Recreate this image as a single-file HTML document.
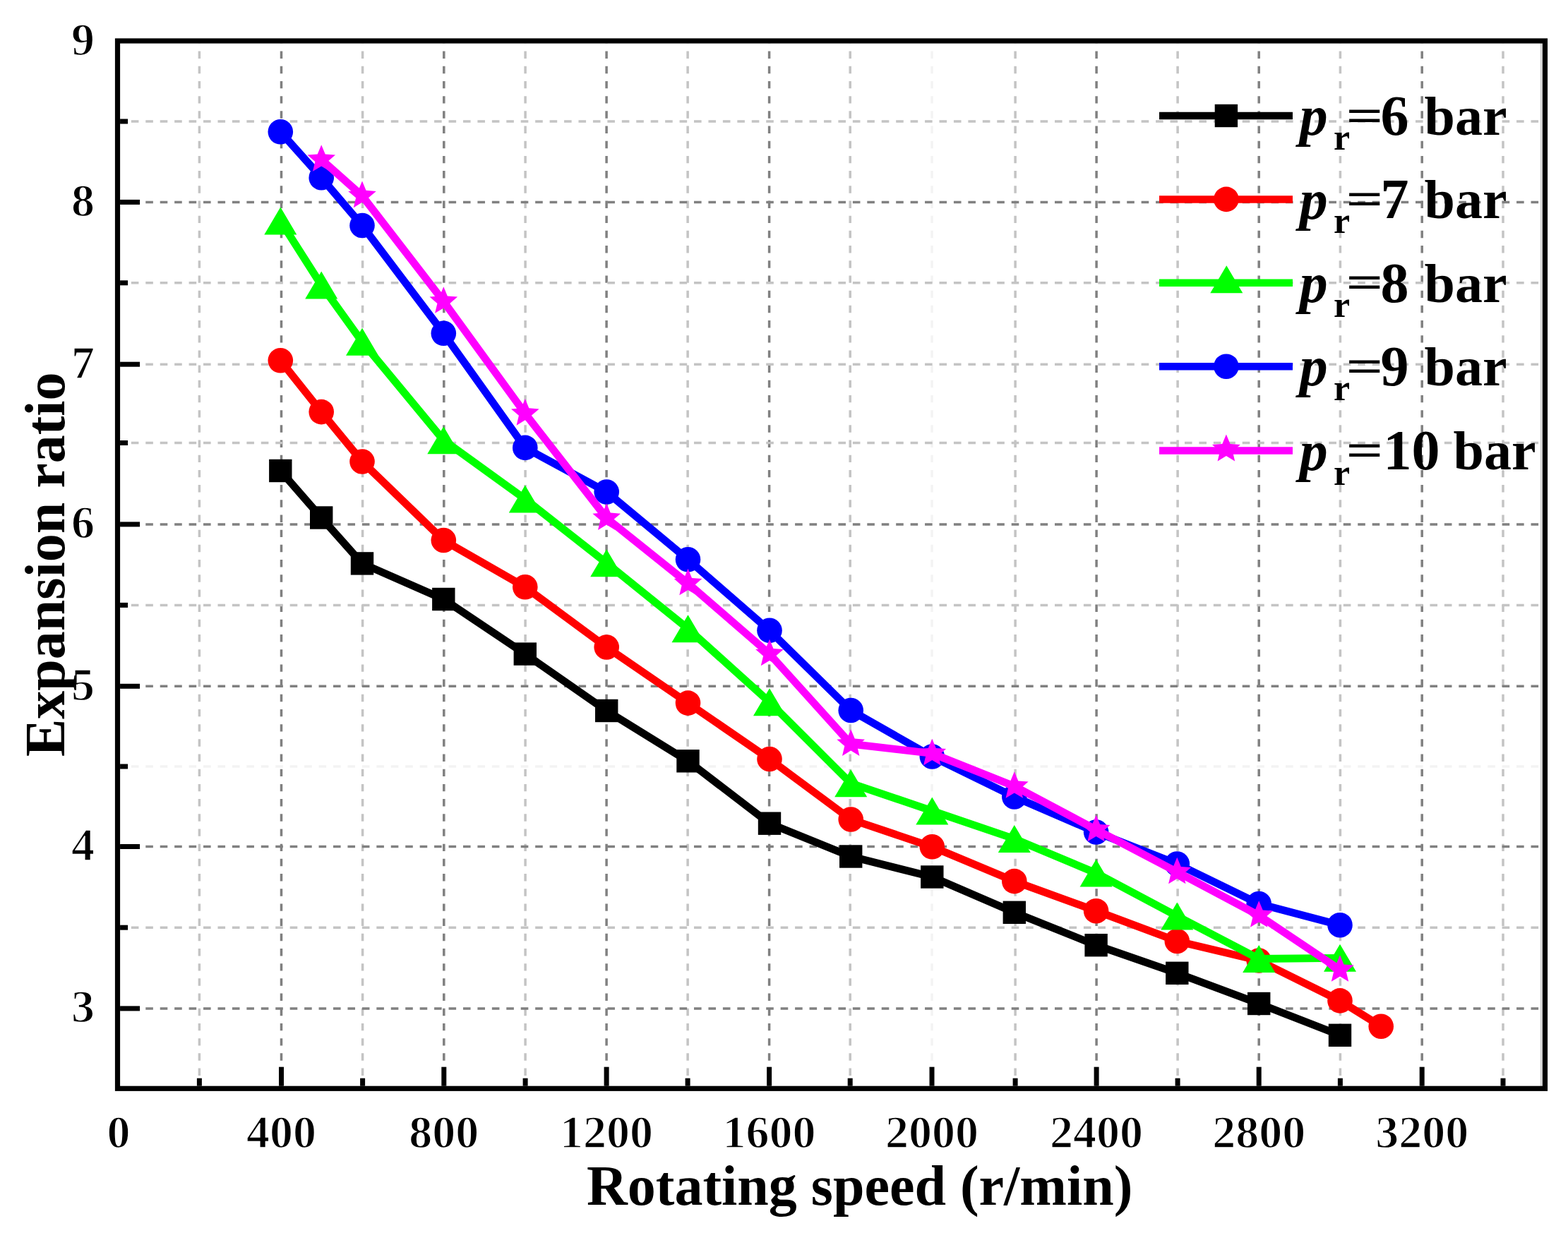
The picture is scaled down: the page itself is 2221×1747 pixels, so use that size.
<!DOCTYPE html>
<html><head><meta charset="utf-8"><title>Expansion ratio vs rotating speed</title>
<style>
html,body{margin:0;padding:0;background:#fff;}
svg{display:block;}
text{font-family:"Liberation Serif","Times New Roman",serif;font-weight:bold;fill:#000;}
</style></head><body>
<svg xmlns="http://www.w3.org/2000/svg" width="2221" height="1747" viewBox="0 0 2221 1747">
<rect width="2221" height="1747" fill="#fff"/>

<g id="grid"><line x1="282.4" y1="1538.8" x2="282.4" y2="61.5" stroke="#c4c4c4" stroke-width="3.5" stroke-dasharray="10.4 10.79" stroke-dashoffset="6.3"/>
<line x1="398.5" y1="1538.8" x2="398.5" y2="61.5" stroke="#808080" stroke-width="3.5" stroke-dasharray="10.4 10.79" stroke-dashoffset="6.3"/>
<line x1="513.6" y1="1538.8" x2="513.6" y2="61.5" stroke="#c4c4c4" stroke-width="3.5" stroke-dasharray="10.4 10.79" stroke-dashoffset="6.3"/>
<line x1="628.8" y1="1538.8" x2="628.8" y2="61.5" stroke="#808080" stroke-width="3.5" stroke-dasharray="10.4 10.79" stroke-dashoffset="6.3"/>
<line x1="744.1" y1="1538.8" x2="744.1" y2="61.5" stroke="#c4c4c4" stroke-width="3.5" stroke-dasharray="10.4 10.79" stroke-dashoffset="6.3"/>
<line x1="859.1" y1="1538.8" x2="859.1" y2="61.5" stroke="#808080" stroke-width="3.5" stroke-dasharray="10.4 10.79" stroke-dashoffset="6.3"/>
<line x1="974.1" y1="1538.8" x2="974.1" y2="61.5" stroke="#c4c4c4" stroke-width="3.5" stroke-dasharray="10.4 10.79" stroke-dashoffset="6.3"/>
<line x1="1089.6" y1="1538.8" x2="1089.6" y2="61.5" stroke="#808080" stroke-width="3.5" stroke-dasharray="10.4 10.79" stroke-dashoffset="6.3"/>
<line x1="1204.2" y1="1538.8" x2="1204.2" y2="61.5" stroke="#c4c4c4" stroke-width="3.5" stroke-dasharray="10.4 10.79" stroke-dashoffset="6.3"/>
<line x1="1320.0" y1="1538.8" x2="1320.0" y2="61.5" stroke="#f3f3f3" stroke-width="3.5" stroke-dasharray="10.4 10.79" stroke-dashoffset="6.3"/>
<line x1="1438.1" y1="1538.8" x2="1438.1" y2="61.5" stroke="#c4c4c4" stroke-width="3.5" stroke-dasharray="10.4 10.79" stroke-dashoffset="6.3"/>
<line x1="1553.1" y1="1538.8" x2="1553.1" y2="61.5" stroke="#808080" stroke-width="3.5" stroke-dasharray="10.4 10.79" stroke-dashoffset="6.3"/>
<line x1="1668.1" y1="1538.8" x2="1668.1" y2="61.5" stroke="#c4c4c4" stroke-width="3.5" stroke-dasharray="10.4 10.79" stroke-dashoffset="6.3"/>
<line x1="1783.2" y1="1538.8" x2="1783.2" y2="61.5" stroke="#808080" stroke-width="3.5" stroke-dasharray="10.4 10.79" stroke-dashoffset="6.3"/>
<line x1="1898.4" y1="1538.8" x2="1898.4" y2="61.5" stroke="#c4c4c4" stroke-width="3.5" stroke-dasharray="10.4 10.79" stroke-dashoffset="6.3"/>
<line x1="2014.2" y1="1538.8" x2="2014.2" y2="61.5" stroke="#808080" stroke-width="3.5" stroke-dasharray="10.4 10.79" stroke-dashoffset="6.3"/>
<line x1="2129.0" y1="1538.8" x2="2129.0" y2="61.5" stroke="#c4c4c4" stroke-width="3.5" stroke-dasharray="10.4 10.79" stroke-dashoffset="6.3"/>
<line x1="170.0" y1="1428.9" x2="2185.0" y2="1428.9" stroke="#808080" stroke-width="3.5" stroke-dasharray="10.6 9.84" stroke-dashoffset="4.6"/>
<line x1="170.0" y1="1314.2" x2="2185.0" y2="1314.2" stroke="#c4c4c4" stroke-width="3.5" stroke-dasharray="10.6 9.84" stroke-dashoffset="4.6"/>
<line x1="170.0" y1="1199.5" x2="2185.0" y2="1199.5" stroke="#808080" stroke-width="3.5" stroke-dasharray="10.6 9.84" stroke-dashoffset="4.6"/>
<line x1="170.0" y1="1086.0" x2="2185.0" y2="1086.0" stroke="#f3f3f3" stroke-width="3.5" stroke-dasharray="10.6 9.84" stroke-dashoffset="4.6"/>
<line x1="170.0" y1="972.3" x2="2185.0" y2="972.3" stroke="#808080" stroke-width="3.5" stroke-dasharray="10.6 9.84" stroke-dashoffset="4.6"/>
<line x1="170.0" y1="857.4" x2="2185.0" y2="857.4" stroke="#c4c4c4" stroke-width="3.5" stroke-dasharray="10.6 9.84" stroke-dashoffset="4.6"/>
<line x1="170.0" y1="742.9" x2="2185.0" y2="742.9" stroke="#808080" stroke-width="3.5" stroke-dasharray="10.6 9.84" stroke-dashoffset="4.6"/>
<line x1="170.0" y1="627.5" x2="2185.0" y2="627.5" stroke="#c4c4c4" stroke-width="3.5" stroke-dasharray="10.6 9.84" stroke-dashoffset="4.6"/>
<line x1="170.0" y1="516.2" x2="2185.0" y2="516.2" stroke="#c4c4c4" stroke-width="3.5" stroke-dasharray="10.6 9.84" stroke-dashoffset="4.6"/>
<line x1="170.0" y1="400.8" x2="2185.0" y2="400.8" stroke="#c4c4c4" stroke-width="3.5" stroke-dasharray="10.6 9.84" stroke-dashoffset="4.6"/>
<line x1="170.0" y1="286.4" x2="2185.0" y2="286.4" stroke="#808080" stroke-width="3.5" stroke-dasharray="10.6 9.84" stroke-dashoffset="4.6"/>
<line x1="170.0" y1="172.0" x2="2185.0" y2="172.0" stroke="#c4c4c4" stroke-width="3.5" stroke-dasharray="10.6 9.84" stroke-dashoffset="4.6"/>
<line x1="2183.2" y1="57.95" x2="2183.2" y2="1542.3" stroke="#d4d4d4" stroke-width="3"/></g>
<polyline points="397.3,667.0 455.2,733.5 513.0,798.4 628.3,849.0 743.8,926.6 859.2,1007.0 974.5,1078.3 1090.0,1166.7 1205.2,1213.5 1320.3,1242.5 1436.8,1292.8 1552.6,1339.2 1667.3,1378.8 1783.2,1422.0 1898.0,1466.8" fill="none" stroke="#000000" stroke-width="10.8" stroke-linejoin="round"/>
<rect x="381.1" y="650.8" width="32.4" height="32.4" fill="#000000"/><rect x="439.0" y="717.3" width="32.4" height="32.4" fill="#000000"/><rect x="496.8" y="782.2" width="32.4" height="32.4" fill="#000000"/><rect x="612.1" y="832.8" width="32.4" height="32.4" fill="#000000"/><rect x="727.6" y="910.4" width="32.4" height="32.4" fill="#000000"/><rect x="843.0" y="990.8" width="32.4" height="32.4" fill="#000000"/><rect x="958.3" y="1062.1" width="32.4" height="32.4" fill="#000000"/><rect x="1073.8" y="1150.5" width="32.4" height="32.4" fill="#000000"/><rect x="1189.0" y="1197.3" width="32.4" height="32.4" fill="#000000"/><rect x="1304.1" y="1226.3" width="32.4" height="32.4" fill="#000000"/><rect x="1420.6" y="1276.6" width="32.4" height="32.4" fill="#000000"/><rect x="1536.4" y="1323.0" width="32.4" height="32.4" fill="#000000"/><rect x="1651.1" y="1362.6" width="32.4" height="32.4" fill="#000000"/><rect x="1767.0" y="1405.8" width="32.4" height="32.4" fill="#000000"/><rect x="1881.8" y="1450.6" width="32.4" height="32.4" fill="#000000"/>
<polyline points="397.3,510.8 455.2,583.6 513.0,654.0 628.3,765.5 743.8,831.8 859.2,917.0 974.5,996.1 1090.0,1075.5 1205.2,1161.0 1320.3,1199.8 1436.8,1248.6 1552.6,1290.7 1667.3,1333.5 1783.2,1361.0 1898.0,1417.9 1956.2,1454.2" fill="none" stroke="#ff0000" stroke-width="10.8" stroke-linejoin="round"/>
<circle cx="397.3" cy="510.8" r="17.8" fill="#ff0000"/><circle cx="455.2" cy="583.6" r="17.8" fill="#ff0000"/><circle cx="513.0" cy="654.0" r="17.8" fill="#ff0000"/><circle cx="628.3" cy="765.5" r="17.8" fill="#ff0000"/><circle cx="743.8" cy="831.8" r="17.8" fill="#ff0000"/><circle cx="859.2" cy="917.0" r="17.8" fill="#ff0000"/><circle cx="974.5" cy="996.1" r="17.8" fill="#ff0000"/><circle cx="1090.0" cy="1075.5" r="17.8" fill="#ff0000"/><circle cx="1205.2" cy="1161.0" r="17.8" fill="#ff0000"/><circle cx="1320.3" cy="1199.8" r="17.8" fill="#ff0000"/><circle cx="1436.8" cy="1248.6" r="17.8" fill="#ff0000"/><circle cx="1552.6" cy="1290.7" r="17.8" fill="#ff0000"/><circle cx="1667.3" cy="1333.5" r="17.8" fill="#ff0000"/><circle cx="1783.2" cy="1361.0" r="17.8" fill="#ff0000"/><circle cx="1898.0" cy="1417.9" r="17.8" fill="#ff0000"/><circle cx="1956.2" cy="1454.2" r="17.8" fill="#ff0000"/>
<polyline points="397.3,313.1 455.2,404.0 513.0,484.3 628.3,623.7 743.8,707.1 859.2,797.8 974.5,890.7 1090.0,994.7 1205.2,1109.8 1320.3,1148.9 1436.8,1188.5 1552.6,1237.0 1667.3,1298.0 1783.2,1358.5 1898.0,1357.3" fill="none" stroke="#00ff00" stroke-width="10.8" stroke-linejoin="round"/>
<polygon points="397.3,293.6 420.3,332.6 374.3,332.6" fill="#00ff00"/><polygon points="455.2,384.5 478.2,423.5 432.2,423.5" fill="#00ff00"/><polygon points="513.0,464.8 536.0,503.8 490.0,503.8" fill="#00ff00"/><polygon points="628.3,604.2 651.3,643.2 605.3,643.2" fill="#00ff00"/><polygon points="743.8,687.6 766.8,726.6 720.8,726.6" fill="#00ff00"/><polygon points="859.2,778.3 882.2,817.3 836.2,817.3" fill="#00ff00"/><polygon points="974.5,871.2 997.5,910.2 951.5,910.2" fill="#00ff00"/><polygon points="1090.0,975.2 1113.0,1014.2 1067.0,1014.2" fill="#00ff00"/><polygon points="1205.2,1090.3 1228.2,1129.3 1182.2,1129.3" fill="#00ff00"/><polygon points="1320.3,1129.4 1343.3,1168.4 1297.3,1168.4" fill="#00ff00"/><polygon points="1436.8,1169.0 1459.8,1208.0 1413.8,1208.0" fill="#00ff00"/><polygon points="1552.6,1217.5 1575.6,1256.5 1529.6,1256.5" fill="#00ff00"/><polygon points="1667.3,1278.5 1690.3,1317.5 1644.3,1317.5" fill="#00ff00"/><polygon points="1783.2,1339.0 1806.2,1378.0 1760.2,1378.0" fill="#00ff00"/><polygon points="1898.0,1337.8 1921.0,1376.8 1875.0,1376.8" fill="#00ff00"/>
<polyline points="397.3,186.8 455.2,251.7 513.0,319.5 628.3,472.3 743.8,634.4 859.2,697.0 974.5,792.8 1090.0,893.3 1205.2,1006.5 1320.3,1072.0 1436.8,1129.0 1552.6,1179.0 1667.3,1224.0 1783.2,1280.5 1898.0,1310.7" fill="none" stroke="#0000ff" stroke-width="10.8" stroke-linejoin="round"/>
<circle cx="397.3" cy="186.8" r="17.8" fill="#0000ff"/><circle cx="455.2" cy="251.7" r="17.8" fill="#0000ff"/><circle cx="513.0" cy="319.5" r="17.8" fill="#0000ff"/><circle cx="628.3" cy="472.3" r="17.8" fill="#0000ff"/><circle cx="743.8" cy="634.4" r="17.8" fill="#0000ff"/><circle cx="859.2" cy="697.0" r="17.8" fill="#0000ff"/><circle cx="974.5" cy="792.8" r="17.8" fill="#0000ff"/><circle cx="1090.0" cy="893.3" r="17.8" fill="#0000ff"/><circle cx="1205.2" cy="1006.5" r="17.8" fill="#0000ff"/><circle cx="1320.3" cy="1072.0" r="17.8" fill="#0000ff"/><circle cx="1436.8" cy="1129.0" r="17.8" fill="#0000ff"/><circle cx="1552.6" cy="1179.0" r="17.8" fill="#0000ff"/><circle cx="1667.3" cy="1224.0" r="17.8" fill="#0000ff"/><circle cx="1783.2" cy="1280.5" r="17.8" fill="#0000ff"/><circle cx="1898.0" cy="1310.7" r="17.8" fill="#0000ff"/>
<polyline points="455.2,226.0 513.0,277.4 628.3,427.0 743.8,585.9 859.2,734.1 974.5,826.5 1090.0,926.5 1205.2,1054.1 1320.3,1067.5 1436.8,1114.0 1552.6,1175.5 1667.3,1235.5 1783.2,1297.0 1898.0,1374.0" fill="none" stroke="#ff00ff" stroke-width="10.8" stroke-linejoin="round"/>
<polygon points="455.2,205.2 460.7,218.4 475.0,219.6 464.1,228.9 467.4,242.8 455.2,235.4 443.0,242.8 446.3,228.9 435.4,219.6 449.7,218.4" fill="#ff00ff"/><polygon points="513.0,256.6 518.5,269.8 532.8,271.0 521.9,280.3 525.2,294.2 513.0,286.8 500.8,294.2 504.1,280.3 493.2,271.0 507.5,269.8" fill="#ff00ff"/><polygon points="628.3,406.2 633.8,419.4 648.1,420.6 637.2,429.9 640.5,443.8 628.3,436.4 616.1,443.8 619.4,429.9 608.5,420.6 622.8,419.4" fill="#ff00ff"/><polygon points="743.8,565.1 749.3,578.3 763.6,579.5 752.7,588.8 756.0,602.7 743.8,595.3 731.6,602.7 734.9,588.8 724.0,579.5 738.3,578.3" fill="#ff00ff"/><polygon points="859.2,713.3 864.7,726.5 879.0,727.7 868.1,737.0 871.4,750.9 859.2,743.5 847.0,750.9 850.3,737.0 839.4,727.7 853.7,726.5" fill="#ff00ff"/><polygon points="974.5,805.7 980.0,818.9 994.3,820.1 983.4,829.4 986.7,843.3 974.5,835.9 962.3,843.3 965.6,829.4 954.7,820.1 969.0,818.9" fill="#ff00ff"/><polygon points="1090.0,905.7 1095.5,918.9 1109.8,920.1 1098.9,929.4 1102.2,943.3 1090.0,935.9 1077.8,943.3 1081.1,929.4 1070.2,920.1 1084.5,918.9" fill="#ff00ff"/><polygon points="1205.2,1033.3 1210.7,1046.5 1225.0,1047.7 1214.1,1057.0 1217.4,1070.9 1205.2,1063.5 1193.0,1070.9 1196.3,1057.0 1185.4,1047.7 1199.7,1046.5" fill="#ff00ff"/><polygon points="1320.3,1046.7 1325.8,1059.9 1340.1,1061.1 1329.2,1070.4 1332.5,1084.3 1320.3,1076.9 1308.1,1084.3 1311.4,1070.4 1300.5,1061.1 1314.8,1059.9" fill="#ff00ff"/><polygon points="1436.8,1093.2 1442.3,1106.4 1456.6,1107.6 1445.7,1116.9 1449.0,1130.8 1436.8,1123.4 1424.6,1130.8 1427.9,1116.9 1417.0,1107.6 1431.3,1106.4" fill="#ff00ff"/><polygon points="1552.6,1154.7 1558.1,1167.9 1572.4,1169.1 1561.5,1178.4 1564.8,1192.3 1552.6,1184.9 1540.4,1192.3 1543.7,1178.4 1532.8,1169.1 1547.1,1167.9" fill="#ff00ff"/><polygon points="1667.3,1214.7 1672.8,1227.9 1687.1,1229.1 1676.2,1238.4 1679.5,1252.3 1667.3,1244.9 1655.1,1252.3 1658.4,1238.4 1647.5,1229.1 1661.8,1227.9" fill="#ff00ff"/><polygon points="1783.2,1276.2 1788.7,1289.4 1803.0,1290.6 1792.1,1299.9 1795.4,1313.8 1783.2,1306.4 1771.0,1313.8 1774.3,1299.9 1763.4,1290.6 1777.7,1289.4" fill="#ff00ff"/><polygon points="1898.0,1353.2 1903.5,1366.4 1917.8,1367.6 1906.9,1376.9 1910.2,1390.8 1898.0,1383.4 1885.8,1390.8 1889.1,1376.9 1878.2,1367.6 1892.5,1366.4" fill="#ff00ff"/>
<rect x="166.5" y="57.95" width="2022.0" height="1484.35" fill="none" stroke="#000" stroke-width="7.2"/>
<line x1="282.4" y1="1538.7" x2="282.4" y2="1527.7" stroke="#000" stroke-width="7"/><line x1="398.5" y1="1538.7" x2="398.5" y2="1511.7" stroke="#000" stroke-width="7"/><line x1="513.6" y1="1538.7" x2="513.6" y2="1527.7" stroke="#000" stroke-width="7"/><line x1="628.8" y1="1538.7" x2="628.8" y2="1511.7" stroke="#000" stroke-width="7"/><line x1="744.1" y1="1538.7" x2="744.1" y2="1527.7" stroke="#000" stroke-width="7"/><line x1="859.1" y1="1538.7" x2="859.1" y2="1511.7" stroke="#000" stroke-width="7"/><line x1="974.1" y1="1538.7" x2="974.1" y2="1527.7" stroke="#000" stroke-width="7"/><line x1="1089.6" y1="1538.7" x2="1089.6" y2="1511.7" stroke="#000" stroke-width="7"/><line x1="1204.2" y1="1538.7" x2="1204.2" y2="1527.7" stroke="#000" stroke-width="7"/><line x1="1320.0" y1="1538.7" x2="1320.0" y2="1511.7" stroke="#000" stroke-width="7"/><line x1="1438.1" y1="1538.7" x2="1438.1" y2="1527.7" stroke="#000" stroke-width="7"/><line x1="1553.1" y1="1538.7" x2="1553.1" y2="1511.7" stroke="#000" stroke-width="7"/><line x1="1668.1" y1="1538.7" x2="1668.1" y2="1527.7" stroke="#000" stroke-width="7"/><line x1="1783.2" y1="1538.7" x2="1783.2" y2="1511.7" stroke="#000" stroke-width="7"/><line x1="1898.4" y1="1538.7" x2="1898.4" y2="1527.7" stroke="#000" stroke-width="7"/><line x1="2014.2" y1="1538.7" x2="2014.2" y2="1511.7" stroke="#000" stroke-width="7"/><line x1="2129.0" y1="1538.7" x2="2129.0" y2="1527.7" stroke="#000" stroke-width="7"/><line x1="170.1" y1="1428.9" x2="198.1" y2="1428.9" stroke="#000" stroke-width="7"/><line x1="170.1" y1="1314.2" x2="181.1" y2="1314.2" stroke="#000" stroke-width="7"/><line x1="170.1" y1="1199.5" x2="198.1" y2="1199.5" stroke="#000" stroke-width="7"/><line x1="170.1" y1="1086.0" x2="181.1" y2="1086.0" stroke="#000" stroke-width="7"/><line x1="170.1" y1="972.3" x2="198.1" y2="972.3" stroke="#000" stroke-width="7"/><line x1="170.1" y1="857.4" x2="181.1" y2="857.4" stroke="#000" stroke-width="7"/><line x1="170.1" y1="742.9" x2="198.1" y2="742.9" stroke="#000" stroke-width="7"/><line x1="170.1" y1="627.5" x2="181.1" y2="627.5" stroke="#000" stroke-width="7"/><line x1="170.1" y1="516.2" x2="198.1" y2="516.2" stroke="#000" stroke-width="7"/><line x1="170.1" y1="400.8" x2="181.1" y2="400.8" stroke="#000" stroke-width="7"/><line x1="170.1" y1="286.4" x2="198.1" y2="286.4" stroke="#000" stroke-width="7"/><line x1="170.1" y1="172.0" x2="181.1" y2="172.0" stroke="#000" stroke-width="7"/>
<text x="168.0" y="1625.5" font-size="66" text-anchor="middle" stroke="#fff" stroke-width="1.5">0</text><text x="398.5" y="1625.5" font-size="66" text-anchor="middle" stroke="#fff" stroke-width="1.5">400</text><text x="628.8" y="1625.5" font-size="66" text-anchor="middle" stroke="#fff" stroke-width="1.5">800</text><text x="859.1" y="1625.5" font-size="66" text-anchor="middle" stroke="#fff" stroke-width="1.5">1200</text><text x="1089.6" y="1625.5" font-size="66" text-anchor="middle" stroke="#fff" stroke-width="1.5">1600</text><text x="1320.0" y="1625.5" font-size="66" text-anchor="middle" stroke="#fff" stroke-width="1.5">2000</text><text x="1553.1" y="1625.5" font-size="66" text-anchor="middle" stroke="#fff" stroke-width="1.5">2400</text><text x="1783.2" y="1625.5" font-size="66" text-anchor="middle" stroke="#fff" stroke-width="1.5">2800</text><text x="2014.2" y="1625.5" font-size="66" text-anchor="middle" stroke="#fff" stroke-width="1.5">3200</text><text x="134" y="1448.4" font-size="66" text-anchor="end" stroke="#fff" stroke-width="1.5">3</text><text x="134" y="1219.0" font-size="66" text-anchor="end" stroke="#fff" stroke-width="1.5">4</text><text x="134" y="991.8" font-size="66" text-anchor="end" stroke="#fff" stroke-width="1.5">5</text><text x="134" y="762.4" font-size="66" text-anchor="end" stroke="#fff" stroke-width="1.5">6</text><text x="134" y="535.7" font-size="66" text-anchor="end" stroke="#fff" stroke-width="1.5">7</text><text x="134" y="305.9" font-size="66" text-anchor="end" stroke="#fff" stroke-width="1.5">8</text><text x="134" y="77.5" font-size="66" text-anchor="end" stroke="#fff" stroke-width="1.5">9</text>
<text x="831" y="1706.5" font-size="80">Rotating speed (r/min)</text>
<text transform="translate(90.8,1072) rotate(-90)" font-size="80">Expansion ratio</text>
<line x1="1642" y1="164.0" x2="1831" y2="164.0" stroke="#000000" stroke-width="10.5"/><rect x="1720.7" y="147.8" width="32.4" height="32.4" fill="#000000"/><text x="1840.8" y="191.1" font-size="80" font-style="italic">p</text><text x="1889" y="212.0" font-size="52">r</text><text transform="translate(1906.6,185.6) scale(1.19,0.85)" font-size="78">=</text><text x="1955.4" y="190.7" font-size="80">6</text><text x="2017.6" y="190.7" font-size="78">bar</text><line x1="1642" y1="282.4" x2="1831" y2="282.4" stroke="#ff0000" stroke-width="10.5"/><circle cx="1736.9" cy="282.4" r="17.8" fill="#ff0000"/><text x="1840.8" y="309.5" font-size="80" font-style="italic">p</text><text x="1889" y="330.4" font-size="52">r</text><text transform="translate(1906.6,304.0) scale(1.19,0.85)" font-size="78">=</text><text x="1955.4" y="309.1" font-size="80">7</text><text x="2017.6" y="309.1" font-size="78">bar</text><line x1="1642" y1="400.8" x2="1831" y2="400.8" stroke="#00ff00" stroke-width="10.5"/><polygon points="1737.3,376.3 1760.3,415.3 1714.3,415.3" fill="#00ff00"/><text x="1840.8" y="427.9" font-size="80" font-style="italic">p</text><text x="1889" y="448.8" font-size="52">r</text><text transform="translate(1906.6,422.4) scale(1.19,0.85)" font-size="78">=</text><text x="1955.4" y="427.5" font-size="80">8</text><text x="2017.6" y="427.5" font-size="78">bar</text><line x1="1642" y1="519.2" x2="1831" y2="519.2" stroke="#0000ff" stroke-width="10.5"/><circle cx="1736.9" cy="519.2" r="17.8" fill="#0000ff"/><text x="1840.8" y="546.3" font-size="80" font-style="italic">p</text><text x="1889" y="567.2" font-size="52">r</text><text transform="translate(1906.6,540.8) scale(1.19,0.85)" font-size="78">=</text><text x="1955.4" y="545.9" font-size="80">9</text><text x="2017.6" y="545.9" font-size="78">bar</text><line x1="1642" y1="638.5" x2="1831" y2="638.5" stroke="#ff00ff" stroke-width="10.5"/><polygon points="1736.9,615.6 1742.5,629.0 1756.9,630.1 1745.9,639.5 1749.2,653.6 1736.9,646.1 1724.6,653.6 1727.9,639.5 1716.9,630.1 1731.3,629.0" fill="#ff00ff"/><text x="1840.8" y="665.6" font-size="80" font-style="italic">p</text><text x="1889" y="686.5" font-size="52">r</text><text transform="translate(1906.6,660.1) scale(1.19,0.85)" font-size="78">=</text><text x="1959.5" y="665.2" font-size="80">10</text><text x="2058.5" y="665.2" font-size="78">bar</text>
</svg></body></html>
